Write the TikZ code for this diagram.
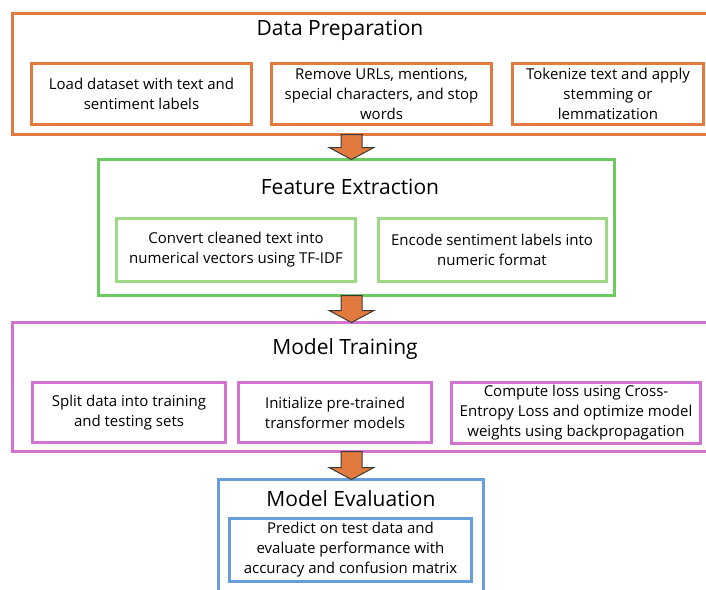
\documentclass[tikz,border=0pt]{standalone}
\usepackage{fontspec}
\setmainfont{Open Sans}
\definecolor{orng}{HTML}{E27A3F}
\definecolor{grnout}{HTML}{6CCB5F}
\definecolor{grnin}{HTML}{9DD887}
\definecolor{purp}{HTML}{D273CF}
\definecolor{blu}{HTML}{6A9EDA}
\definecolor{arrowline}{HTML}{3A3A3A}
\tikzset{
  boxbase/.style={draw, line width=3pt, rectangle, inner sep=0pt, outer sep=0pt, align=center,
    font=\fontsize{15}{20}\selectfont, text=black},
  titletext/.style={inner sep=0pt, font=\fontsize{21}{24}\selectfont, text=black},
  blockarrow/.style={fill=orng, draw=arrowline, line width=1pt, line join=miter},
}
\begin{document}
\begin{tikzpicture}[x=1pt,y=-1pt]
\useasboundingbox (0,0) rectangle (706,589);
\clip (0,0) rectangle (706,589);
% Data Preparation
\node[boxbase, draw=orng, minimum width=708, minimum height=121] (dp) at (366.5,74) {};
\node[titletext] (dpt) at (340,30) {Data Preparation};
\node[boxbase, draw=orng, minimum width=220, minimum height=61] (dp1) at (141.5,94) {Load dataset with text and\\sentiment labels};
\node[boxbase, draw=orng, minimum width=220, minimum height=61] (dp2) at (381.5,94) {Remove URLs, mentions,\\special characters, and stop\\words};
\node[boxbase, draw=orng, minimum width=191, minimum height=61] (dp3) at (608,94) {Tokenize text and apply\\stemming or\\lemmatization};
% Feature Extraction
\node[boxbase, draw=grnout, minimum width=516, minimum height=136] (fe) at (356.5,227.5) {};
\node[titletext] (fet) at (350,187) {Feature Extraction};
\node[boxbase, draw=grnin, minimum width=239, minimum height=63] (fe1) at (236,250) {Convert cleaned text into\\numerical vectors using TF-IDF};
\node[boxbase, draw=grnin, minimum width=228, minimum height=63] (fe2) at (492,250) {Encode sentiment labels into\\numeric format};
% Model Training
\node[boxbase, draw=purp, minimum width=708, minimum height=129] (mt) at (366.5,387) {};
\node[titletext] (mtt) at (345,349) {Model Training};
\node[boxbase, draw=purp, minimum width=193, minimum height=60] (mt1) at (129,412.5) {Split data into training\\and testing sets};
\node[boxbase, draw=purp, minimum width=193, minimum height=60] (mt2) at (335,412.5) {Initialize pre-trained\\transformer models};
\node[boxbase, draw=purp, minimum width=249, minimum height=61] (mt3) at (576,413) {Compute loss using Cross-\\Entropy Loss and optimize model\\weights using backpropagation};
% Model Evaluation
\node[boxbase, draw=blu, minimum width=265, minimum height=130] (me) at (351,544.5) {};
\node[titletext] (met) at (351,499) {Model Evaluation};
\node[boxbase, draw=blu, minimum width=242, minimum height=63] (me1) at (350.5,550) {Predict on test data and\\evaluate performance with\\accuracy and confusion matrix};
% Block arrows
\foreach \a/\b in {dp/fe, fe/mt, mt/me}{
  \coordinate (top) at (351.5,0 |- \a.south);
  \coordinate (tip) at (351.5,0 |- \b.north);
  \draw[blockarrow] ([xshift=-10.5pt]top) -- ([xshift=-10.5pt,yshift=12pt]tip) -- ([xshift=-22.5pt,yshift=12pt]tip) -- (tip)
    -- ([xshift=22.5pt,yshift=12pt]tip) -- ([xshift=10.5pt,yshift=12pt]tip) -- ([xshift=10.5pt]top) -- cycle;
}
\end{tikzpicture}
\end{document}
